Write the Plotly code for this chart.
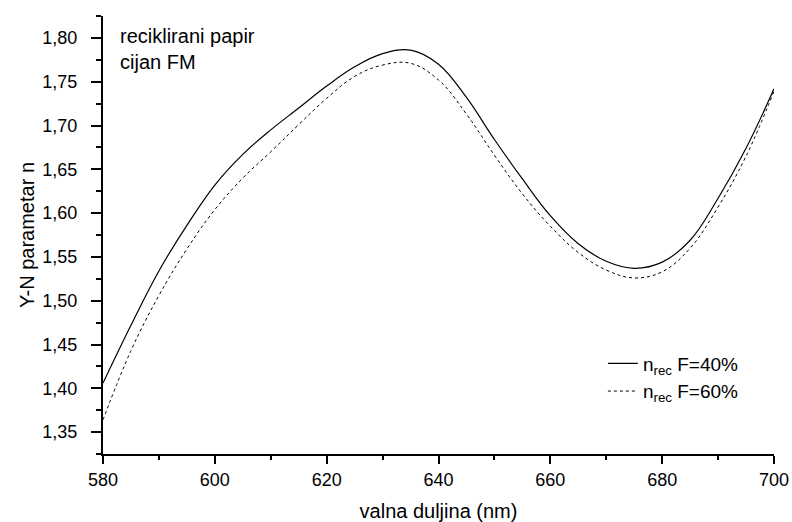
import plotly.graph_objects as go

# valna duljina (nm)
wavelength = [580, 585, 590, 595, 600, 605, 610, 615, 620, 625, 630, 635, 640,
              645, 650, 655, 660, 665, 670, 675, 680, 685, 690, 695, 700]

# n_rec F=40%
n_f40 = [1.406, 1.472, 1.534, 1.586, 1.632, 1.667, 1.695, 1.720, 1.745, 1.767,
         1.782, 1.786, 1.770, 1.732, 1.684, 1.639, 1.597, 1.565, 1.545, 1.537,
         1.544, 1.569, 1.617, 1.674, 1.742]

# n_rec F=60%
n_f60 = [1.364, 1.443, 1.506, 1.559, 1.604, 1.640, 1.670, 1.701, 1.731, 1.756,
         1.769, 1.771, 1.752, 1.713, 1.666, 1.622, 1.585, 1.555, 1.535, 1.526,
         1.533, 1.560, 1.607, 1.665, 1.739]

FONT = "Liberation Sans, Arial, sans-serif"

fig = go.Figure()

fig.add_trace(go.Scatter(
    x=wavelength, y=n_f40,
    mode="lines",
    name="n<sub>rec</sub> F=40%",
    line=dict(color="black", width=1.2, shape="spline", smoothing=1.1),
))

fig.add_trace(go.Scatter(
    x=wavelength, y=n_f60,
    mode="lines",
    name="n<sub>rec</sub> F=60%",
    line=dict(color="black", width=1, dash="3px,3px", shape="spline", smoothing=1.1),
))

# natpis u kutu
fig.add_annotation(
    x=0.022, y=0.985, xref="paper", yref="paper",
    xanchor="left", yanchor="top",
    text="reciklirani papir<br>cijan FM",
    showarrow=False, align="left",
    font=dict(family=FONT, size=20, color="black"),
)

fig.update_layout(
    width=792, height=522,
    margin=dict(l=103, r=18, t=16, b=68),
    paper_bgcolor="white",
    plot_bgcolor="white",
    separators=",.",
    font=dict(family=FONT, size=18, color="black"),
    showlegend=True,
    legend=dict(
        x=0.745, y=0.25, xanchor="left", yanchor="top",
        bgcolor="rgba(0,0,0,0)",
        font=dict(family=FONT, size=19, color="black"),
        tracegroupgap=0,
    ),
)

fig.update_xaxes(
    title=dict(text="valna duljina (nm)", font=dict(size=20), standoff=20),
    range=[580, 700],
    tick0=580, dtick=20,
    automargin=False,
    showgrid=False, zeroline=False,
    showline=True, linecolor="black", linewidth=2,
    ticks="outside", ticklen=8, tickwidth=1.5, tickcolor="black",
    minor=dict(dtick=10, ticks="outside", ticklen=4, tickwidth=1.5,
               tickcolor="black", showgrid=False),
)

fig.update_yaxes(
    title=dict(text="Y-N parametar n", font=dict(size=20), standoff=2),
    range=[1.325, 1.825],
    tick0=1.35, dtick=0.05, tickformat=".2f",
    ticklabelstandoff=10,
    automargin=False,
    showgrid=False, zeroline=False,
    showline=True, linecolor="black", linewidth=2,
    ticks="outside", ticklen=10, tickwidth=1.5, tickcolor="black",
    minor=dict(dtick=0.025, ticks="outside", ticklen=5, tickwidth=1.5,
               tickcolor="black", showgrid=False),
)

# bez margine tijela stranice, da graf stane u prozor
fig.write_html(
    "out.html",
    config={"displayModeBar": False},
    post_script="document.body.style.margin='0';document.body.style.overflow='hidden';",
)
